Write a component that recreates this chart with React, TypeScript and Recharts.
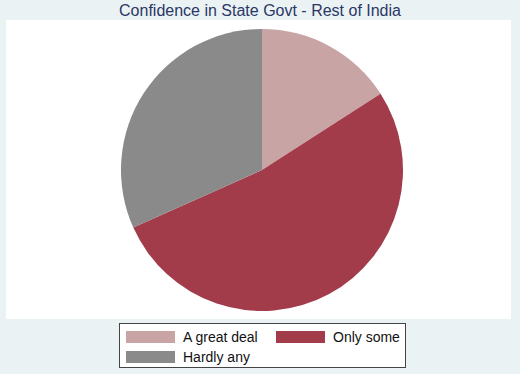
import { PieChart, Pie, Cell, Legend } from 'recharts';

const categories = ['A great deal', 'Only some', 'Hardly any'];
const shares = [15.9, 52.4, 31.7];
const COLORS = ['#c9a4a4', '#a23b4a', '#8a8a8a'];

const data = categories.map((name, i) => ({ name, value: shares[i] }));

const FONT = '"Liberation Sans", Arial, Helvetica, sans-serif';

function Swatch({ color }: { color: string }) {
  return <span style={{ display: 'inline-block', width: 49, height: 12, background: color, marginRight: 8 }} />;
}

function LegendBox() {
  const item = (i: number) => (
    <div style={{ display: 'flex', alignItems: 'center', height: 18 }}>
      <Swatch color={COLORS[i]} />
      <span>{categories[i]}</span>
    </div>
  );
  return (
    <div
      style={{
        width: 279,
        height: 39,
        border: '1px solid #444',
        background: '#fff',
        boxSizing: 'content-box',
        fontFamily: FONT,
        fontSize: 14,
        color: '#111',
        display: 'grid',
        gridTemplateColumns: '150px 130px',
        padding: '4px 0 0 6px',
      }}
    >
      {item(0)}
      {item(1)}
      {item(2)}
    </div>
  );
}

export default function App() {
  return (
    <div style={{ position: 'absolute', left: 0, top: 0, width: 520, height: 374, background: '#eaf2f3' }}>
      <div
        style={{
          position: 'absolute',
          left: 0,
          top: 0,
          width: 520,
          textAlign: 'center',
          fontFamily: FONT,
          fontSize: 16,
          lineHeight: '22px',
          color: '#2b3766',
        }}
      >
        Confidence in State Govt - Rest of India
      </div>
      <div style={{ position: 'absolute', left: 6, top: 20, width: 505, height: 299, background: '#fff' }} />
      <div style={{ position: 'absolute', left: 0, top: 0 }}>
        <PieChart width={520} height={374} margin={{ top: 0, right: 0, bottom: 0, left: 0 }}>
          <Pie
            data={data}
            dataKey="value"
            nameKey="name"
            cx={262}
            cy={170}
            outerRadius={141}
            startAngle={90}
            endAngle={-270}
            stroke="none"
            isAnimationActive={false}
          >
            {data.map((entry, idx) => (
              <Cell key={`cell-${idx}`} fill={COLORS[idx % COLORS.length]} />
            ))}
          </Pie>
          <Legend
            content={() => <LegendBox />}
            wrapperStyle={{ position: 'absolute', left: 119, top: 323, width: 'auto', bottom: 'auto' }}
          />
        </PieChart>
      </div>
    </div>
  );
}
